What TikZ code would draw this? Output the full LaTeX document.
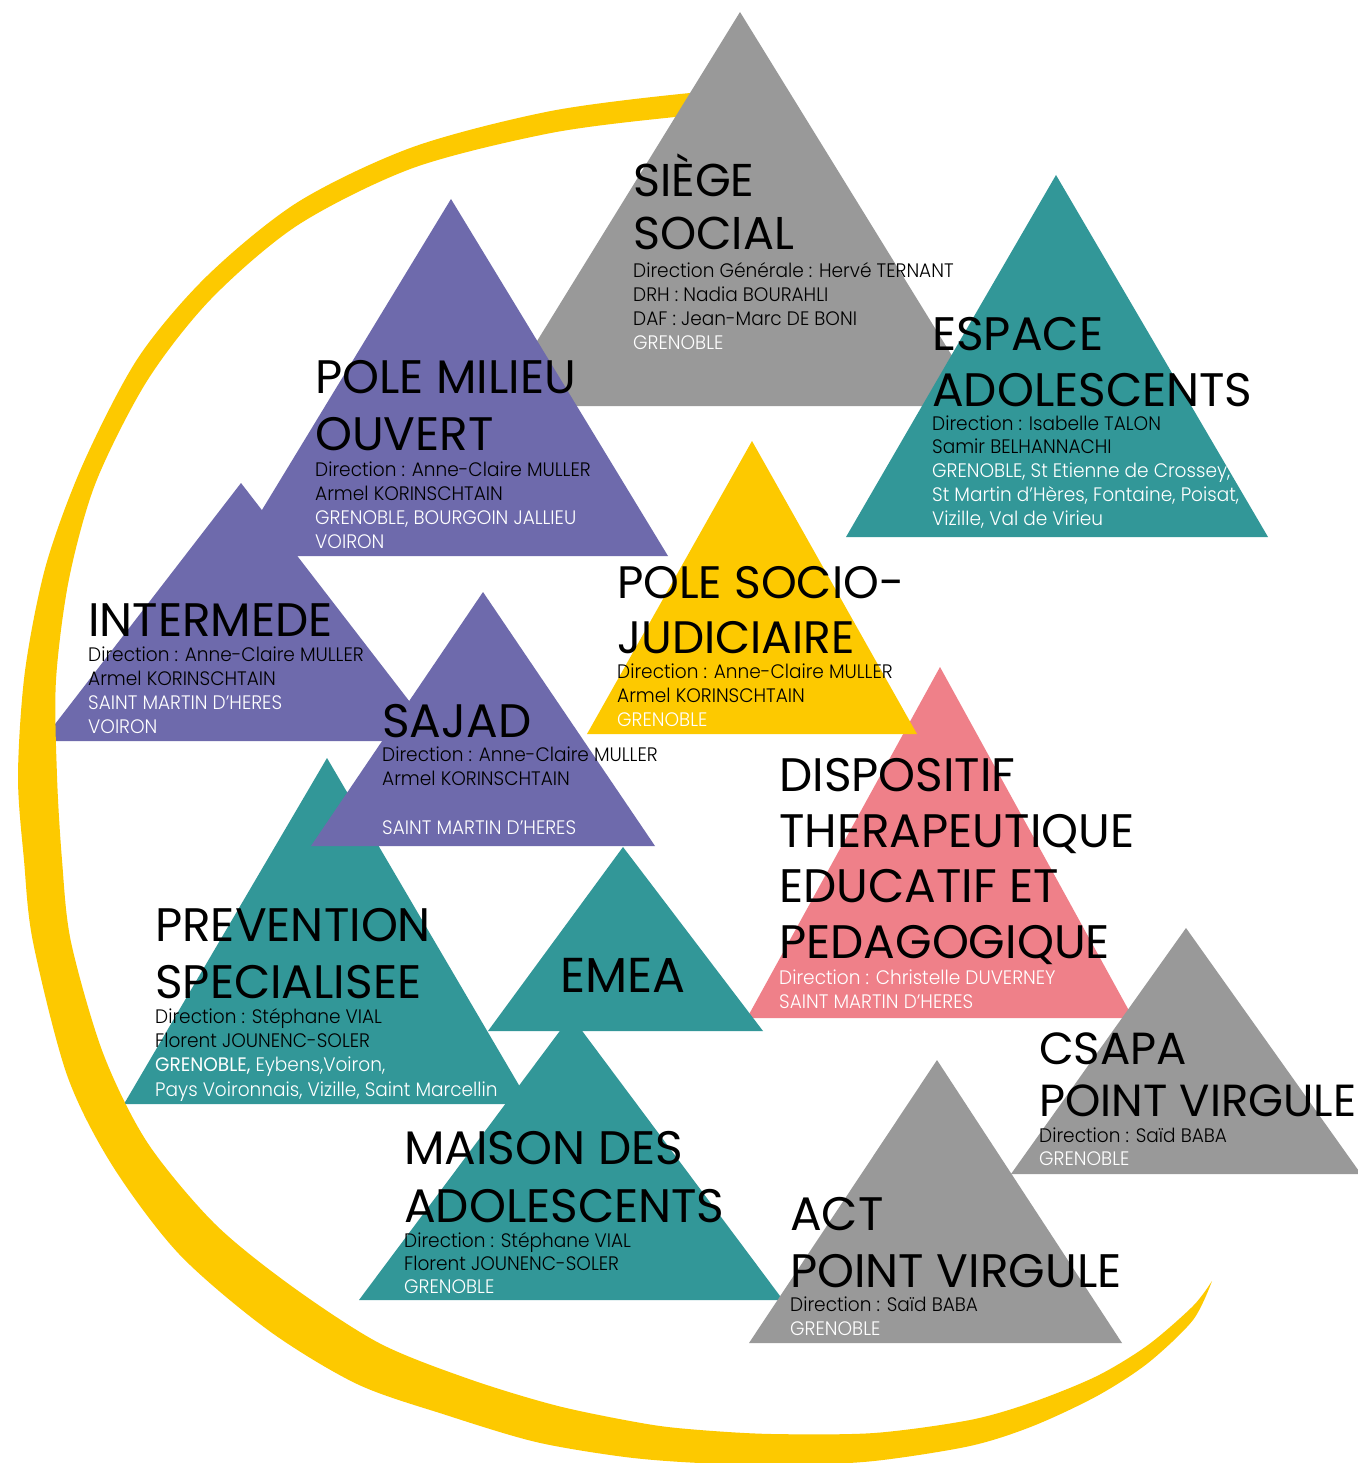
\documentclass[tikz,border=0pt]{standalone}
\usepackage{fontspec}
\setmainfont{Poppins}
\newfontfamily\fin[FakeStretch = 0.95]{Poppins Light}
\newfontfamily\moyen[FakeStretch = 0.95]{Poppins}

\definecolor{gris}{RGB}{153,153,153}
\definecolor{mauve}{RGB}{110,106,172}
\definecolor{sarcelle}{RGB}{50,151,152}
\definecolor{jaune}{RGB}{253,201,0}
\definecolor{rose}{RGB}{239,128,137}

\newcommand{\ville}[1]{\textcolor{white}{#1}}

\begin{document}
\begin{tikzpicture}[x = 1pt, y = -1pt,
	titre/.style = {anchor = base west, inner sep = 0pt, align = left, font = \fontsize{47}{56}\selectfont},
	infos/.style = {anchor = base west, inner sep = 0pt, align = left, font = \fin\fontsize{19.5}{24}\selectfont}]
	 \useasboundingbox (0, 0) rectangle (1357, 1463);
	 \fill[white] (0, 0) rectangle (1357, 1463);
	 
	 \fill[mauve] (241, 483) -- (440, 741) -- (42, 741) -- cycle;
	 \fill[sarcelle] (327, 758) -- (530, 1104) -- (124, 1104) -- cycle;
	 
	 \fill[jaune] plot[smooth] coordinates {(750, 91) (690, 93) (551, 111) (413, 147) (298, 202) (207, 276) (138, 358) (83, 464) (46, 565) (25, 671) (18, 776) (24, 860) (33, 942) (67, 1075) (112, 1165) (179, 1254) (268, 1330) (357, 1384) (446, 1415) (536, 1442) (625, 1457) (700, 1463) (790, 1465) (874, 1461) (970, 1446) (1033, 1426) (1097, 1396) (1148, 1363) (1193, 1320) (1212, 1281)}
	 -- plot[smooth] coordinates {(1212, 1281) (1193, 1306) (1148, 1345) (1097, 1376) (1033, 1402) (970, 1420) (874, 1433) (772, 1434) (700, 1430) (647, 1424) (558, 1406) (469, 1379) (379, 1343) (290, 1285) (214, 1223) (147, 1142) (103, 1053) (71, 942) (62, 860) (57, 776) (56, 680) (69, 579) (96, 482) (147, 381) (211, 299) (298, 225) (413, 168) (551, 133) (675, 117) (750, 112)} -- cycle;
	 
	 \fill[gris] (740, 12) -- (983, 406) -- (497, 406) -- cycle;
	 \fill[mauve] (451, 199) -- (668, 556) -- (234, 556) -- cycle;
	 \fill[sarcelle] (1056, 175) -- (1268, 537) -- (846, 537) -- cycle;
	 \fill[mauve] (483, 592) -- (655, 846) -- (311, 846) -- cycle;
	 \fill[rose] (940, 667) -- (1133, 1018) -- (747, 1018) -- cycle;
	 \fill[jaune] (752, 441) -- (917, 734) -- (587, 734) -- cycle;
	 \fill[sarcelle] (623, 847) -- (763, 1031) -- (488, 1031) -- cycle;
	 \fill[sarcelle] (571, 1016) -- (783, 1300) -- (359, 1300) -- cycle;
	 \fill[gris] (1186, 928) -- (1361, 1174) -- (1011, 1174) -- cycle;
	 \fill[gris] (937, 1060) -- (1122, 1343) -- (749, 1343) -- cycle;
	 
	 \node[titre, font = \fontsize{46}{53}\selectfont] (siege) at (633, 250) {SIÈGE\\SOCIAL};
	 \node[infos] (siege-infos) at (633, 349) {Direction Générale : Hervé TERNANT\\DRH : Nadia BOURAHLI\\DAF : Jean-Marc DE BONI\\\ville{GRENOBLE}};
	 
	 \node[titre, font = \fontsize{47}{57}\selectfont] (milieu) at (315, 450) {POLE MILIEU\\OUVERT};
	 \node[infos] (milieu-infos) at (315, 548) {Direction : Anne-Claire MULLER\\Armel KORINSCHTAIN\\\ville{GRENOBLE, BOURGOIN JALLIEU}\\\ville{VOIRON}};
	 
	 \node[titre] (intermede) at (88, 636) {INTERMEDE};
	 \node[infos] (intermede-infos) at (88, 733) {Direction : Anne-Claire MULLER\\Armel KORINSCHTAIN\\\ville{SAINT MARTIN D’HERES}\\\ville{VOIRON}};
	 
	 \node[titre] (espace) at (932, 406) {ESPACE\\ADOLESCENTS};
	 \node[infos, font = \fin\fontsize{19.5}{23.7}\selectfont] (espace-infos) at (932, 525) {Direction : Isabelle TALON\\Samir BELHANNACHI\\\ville{GRENOBLE, St Etienne de Crossey,}\\\ville{St Martin d’Hères, Fontaine, Poisat,}\\\ville{Vizille, Val de Virieu}};
	 
	 \node[titre, font = \fontsize{45.5}{55}\selectfont] (socio) at (617, 653) {POLE SOCIO-\\JUDICIAIRE};
	 \node[infos] (socio-infos) at (617, 726) {Direction : Anne-Claire MULLER\\Armel KORINSCHTAIN\\\ville{GRENOBLE}};
	 
	 \node[titre] (sajad) at (382, 737) {SAJAD};
	 \node[infos] (sajad-infos) at (382, 834) {Direction : Anne-Claire MULLER\\Armel KORINSCHTAIN\\[25pt]\ville{SAINT MARTIN D’HERES}};
	 
	 \node[titre, font = \fontsize{47}{57}\selectfont] (prevention) at (155, 998) {PREVENTION\\SPECIALISEE};
	 \node[infos, font = \fin\fontsize{19.5}{24.3}\selectfont] (prevention-infos) at (155, 1096) {Direction : Stéphane VIAL\\Florent JOUNENC-SOLER\\\ville{{\moyen GRENOBLE,} Eybens,Voiron,}\\\ville{Pays Voironnais, Vizille, Saint Marcellin}};
	 
	 \node[titre, font = \fontsize{49}{56}\selectfont] (emea) at (560, 992) {EMEA};
	 
	 \node[titre, font = \fontsize{47}{55.5}\selectfont] (dispositif) at (779, 958) {DISPOSITIF\\THERAPEUTIQUE\\EDUCATIF ET\\PEDAGOGIQUE};
	 \node[infos, text = white] (dispositif-infos) at (779, 1008) {Direction : Christelle DUVERNEY\\SAINT MARTIN D’HERES};
	 
	 \node[titre, font = \fontsize{47}{58}\selectfont] (maison) at (404, 1222) {MAISON DES\\ADOLESCENTS};
	 \node[infos, font = \fin\fontsize{19.5}{23}\selectfont] (maison-infos) at (404, 1293) {Direction : Stéphane VIAL\\Florent JOUNENC-SOLER\\\ville{GRENOBLE}};
	 
	 \node[titre, font = \fontsize{45}{52}\selectfont] (csapa) at (1039, 1116) {CSAPA\\POINT VIRGULE};
	 \node[infos, font = \fin\fontsize{19.5}{23}\selectfont] (csapa-infos) at (1039, 1165) {Direction : Saïd BABA\\\ville{GRENOBLE}};
	 
	 \node[titre, font = \fontsize{47}{57}\selectfont] (act) at (790, 1287) {ACT\\POINT VIRGULE};
	 \node[infos] (act-infos) at (790, 1335) {Direction : Saïd BABA\\\ville{GRENOBLE}};
\end{tikzpicture}
\end{document}
